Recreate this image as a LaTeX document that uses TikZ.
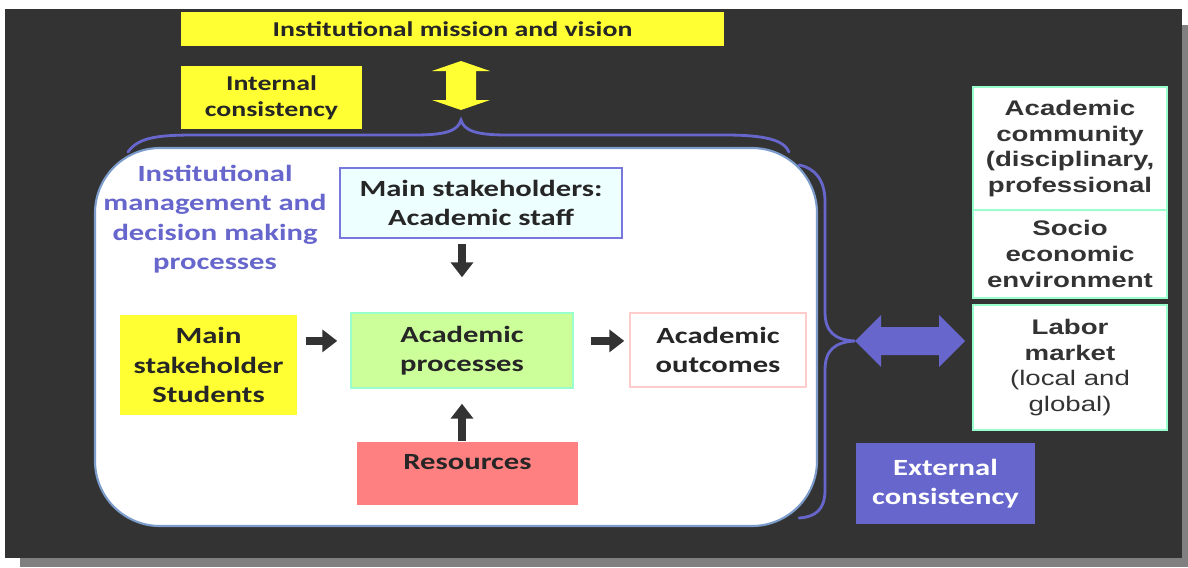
\documentclass[tikz,border=0pt]{standalone}
\usepackage{fontspec}
\setmainfont[FakeStretch=1.32]{Carlito}
\newfontfamily\arialfont[FakeStretch=1.31]{Liberation Sans}
\usetikzlibrary{arrows.meta}
\definecolor{slateBg}{HTML}{333333}
\definecolor{shadowG}{HTML}{808080}
\definecolor{yelF}{HTML}{FFFF33}
\definecolor{purB}{HTML}{6666CC}
\definecolor{panelB}{HTML}{7C9CCC}
\definecolor{staffF}{HTML}{EEFFFF}
\definecolor{staffB}{HTML}{7777DD}
\definecolor{procF}{HTML}{CCFF99}
\definecolor{aquaB}{HTML}{99FFCC}
\definecolor{outB}{HTML}{FFCCCC}
\definecolor{resF}{HTML}{FF8080}
\definecolor{inkD}{HTML}{262626}
\definecolor{inkG}{HTML}{333333}

\begin{document}
\begin{tikzpicture}[x=0.025cm, y=-0.025cm,
  tag/.style={fill=yelF, text=inkD, align=center, inner sep=0pt,
    font=\fontsize{15}{18.5}\selectfont\bfseries},
  inbox/.style={align=center, inner sep=0pt, text=inkD, line width=1pt,
    font=\fontsize{16.5}{21}\selectfont\bfseries},
  envbox/.style={draw=aquaB, fill=white, line width=1.5pt, align=center,
    inner sep=0pt, text=inkG, minimum width=4.85cm,
    font=\arialfont\fontsize{15}{18.2}\selectfont\bfseries},
  flow/.style={-{Triangle[length=0.375cm, width=0.55cm]}, line width=0.2cm, draw=inkG},
  brace/.style={draw=purB, line width=2pt, line cap=round}]
  \path[use as bounding box] (0,0) rectangle (1188,567);

  % slide with drop shadow
  \fill[shadowG] (20,25) rectangle (1188,567);
  \fill[slateBg] (5,9) rectangle (1182,558);

  \node[tag, minimum width=13.575cm, minimum height=0.85cm] (mission) at (452.5,29)
    {Institutional mission and vision};
  \node[tag, minimum width=4.525cm, minimum height=1.575cm] (internal) at (271.5,97.5)
    {Internal\\consistency};

  % up/down block arrow
  \fill[yelF] (461,61) -- (490,71) -- (476,71) -- (476,100) -- (490,100) -- (461,110)
    -- (432,100) -- (446,100) -- (446,71) -- (432,71) -- cycle;

  % braces
  \draw[brace] (128,152) .. controls (138,138) and (155,135) .. (195,135) -- (415,135)
    .. controls (445,135) and (458,131) .. (461,120)
    .. controls (464,131) and (477,135) .. (507,135) -- (725,135)
    .. controls (765,135) and (784,140) .. (789,152);
  \draw[brace] (799,165) .. controls (815,168) and (825,180) .. (825,202) -- (825,312)
    .. controls (825,332) and (835,340) .. (855,341)
    .. controls (835,342) and (825,350) .. (825,370) -- (825,490)
    .. controls (825,510) and (815,517) .. (799,518);

  \draw[draw=panelB, fill=white, line width=1.5pt, rounded corners=1.625cm]
    (95,148) rectangle (817,526);

  \node[align=center, text=purB, font=\fontsize{16.5}{21}\selectfont\bfseries] (mgmt)
    at (215,219) {Institutional\\management and\\decision making\\processes};

  \node[inbox, draw=staffB, fill=staffF, minimum width=7.05cm, minimum height=1.75cm]
    (staff) at (481,203) {Main stakeholders:\\Academic staff};
  \node[inbox, fill=yelF, minimum width=4.425cm, minimum height=2.5cm]
    (students) at (208.5,365) {Main\\stakeholder\\Students};
  \node[inbox, draw=aquaB, fill=procF, minimum width=5.55cm, minimum height=1.875cm]
    (processes) at (462,350.5) {Academic\\processes};
  \node[inbox, draw=outB, fill=white, minimum width=4.4cm, minimum height=1.85cm]
    (outcomes) at (718,350) {Academic\\outcomes};
  \node[inbox, fill=resF, minimum width=5.525cm, minimum height=1.575cm,
    text height=0.4cm, text depth=0.6cm] (resources) at (467.5,473.5) {Resources};

  \coordinate (flowL) at ([yshift=0.24cm]processes.west);
  \coordinate (flowR) at ([yshift=0.24cm]processes.east);
  \draw[flow, shorten <=0.125cm, shorten >=0.875cm] (staff.south -| processes) -- (processes.north);
  \draw[flow, shorten <=0.2cm, shorten >=0.325cm] (students.east |- flowL) -- (flowL);
  \draw[flow, shorten <=0.425cm, shorten >=0.125cm] (flowR) -- (outcomes.west |- flowR);
  \draw[flow, shorten >=0.375cm] (resources.north -| processes) -- (processes.south);

  % left/right block arrow
  \fill[purB] (855,341) -- (881,315) -- (881,327) -- (939,327) -- (939,315) -- (965,341)
    -- (939,367) -- (939,355) -- (881,355) -- (881,367) -- cycle;

  \node[envbox, minimum height=3.075cm] (community) at (1070,148.5)
    {Academic\\community\\(disciplinary,\\professional};
  \node[envbox, minimum height=2.2cm] (socio) at (1070,254)
    {Socio\\economic\\environment};
  \node[envbox, minimum height=3.125cm] (labor) at (1070,367.5)
    {Labor\\market\\{\mdseries(local and}\\{\mdseries global)}};

  \node[fill=purB, text=white, align=center, inner sep=0pt, minimum width=4.475cm,
    minimum height=2.025cm, font=\fontsize{16.5}{21}\selectfont\bfseries]
    (external) at (945.5,483.5) {External\\consistency};
\end{tikzpicture}
\end{document}
